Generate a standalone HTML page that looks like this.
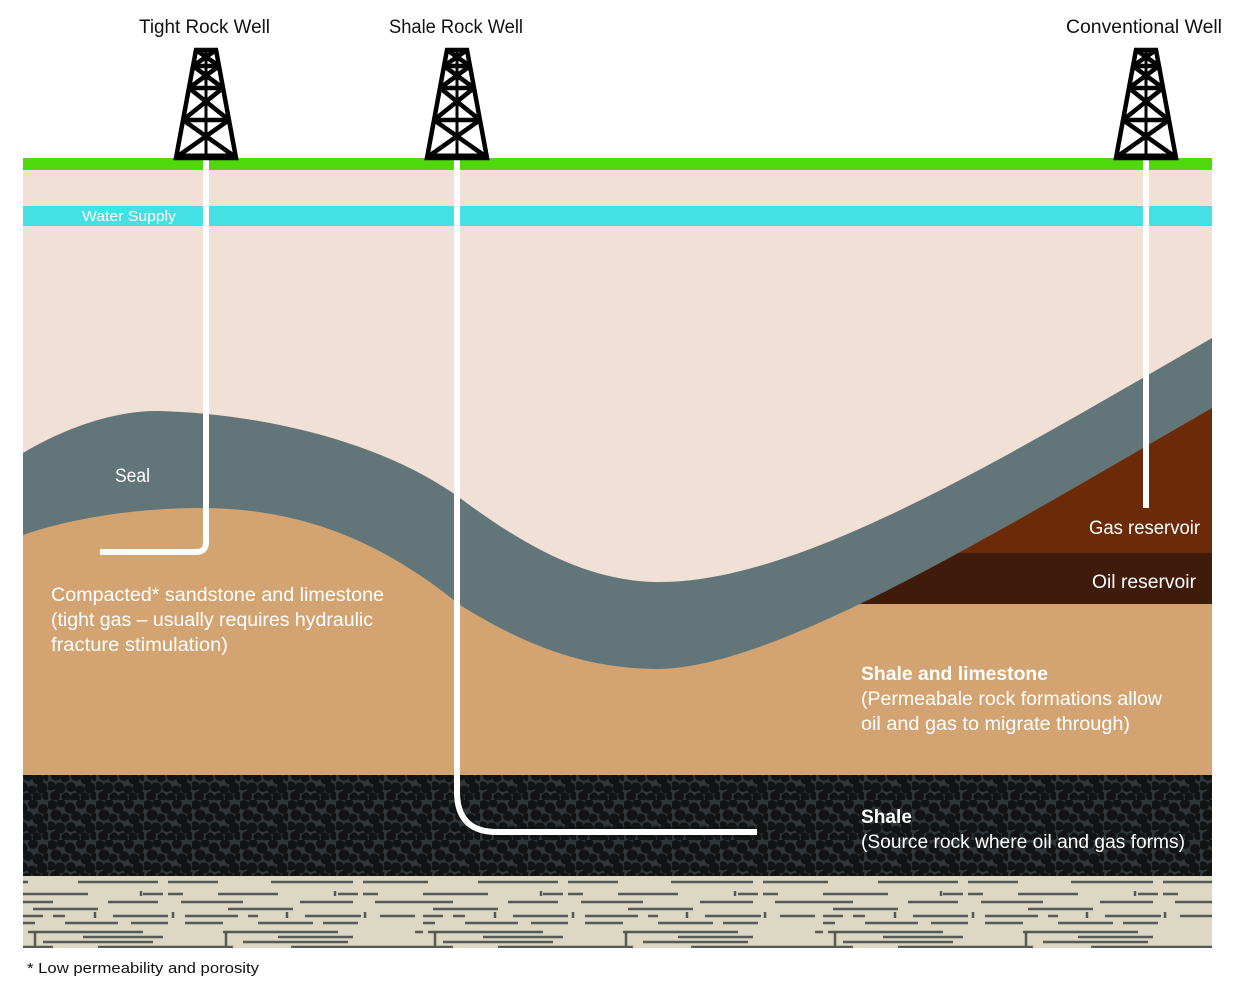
<!DOCTYPE html>
<html><head><meta charset="utf-8"><style>
html,body{margin:0;padding:0;background:#fff;}
svg{display:block;font-family:"Liberation Sans",sans-serif;}
</style></head><body>
<svg width="1240" height="990" viewBox="0 0 1240 990" xmlns="http://www.w3.org/2000/svg">
<defs>
<pattern id="shale" width="48" height="40" patternUnits="userSpaceOnUse">
<rect width="48" height="40" fill="#2f3639"/>
<g fill="#111315">
<circle cx="4" cy="5" r="5"/><circle cx="13" cy="3" r="4.5"/><circle cx="22" cy="8" r="5.5"/><circle cx="33" cy="4" r="5"/><circle cx="43" cy="9" r="5"/>
<circle cx="8" cy="15" r="5.5"/><circle cx="17" cy="18" r="4.5"/><circle cx="28" cy="16" r="5"/><circle cx="38" cy="19" r="5.5"/><circle cx="47" cy="17" r="4"/>
<circle cx="3" cy="26" r="4.5"/><circle cx="12" cy="28" r="5.5"/><circle cx="23" cy="27" r="5"/><circle cx="32" cy="30" r="4.5"/><circle cx="42" cy="28" r="5.5"/>
<circle cx="7" cy="36" r="5"/><circle cx="18" cy="37" r="4.5"/><circle cx="27" cy="38" r="5"/><circle cx="37" cy="37" r="4.5"/><circle cx="46" cy="36" r="4"/>
</g>
</pattern>
<pattern id="lime" width="400" height="72" patternUnits="userSpaceOnUse" x="23" y="876">
<rect width="400" height="72" fill="#dcd8c3"/>
<g stroke="#555a55" stroke-width="2.5">
<line x1="0" y1="6" x2="5" y2="6"/><line x1="55" y1="6" x2="135" y2="6"/><line x1="145" y1="6" x2="195" y2="6"/><line x1="248" y1="6" x2="330" y2="6"/><line x1="340" y1="6" x2="400" y2="6"/>
<line x1="0" y1="18" x2="65" y2="18"/><line x1="120" y1="18" x2="140" y2="18"/><line x1="145" y1="18" x2="160" y2="18"/><line x1="195" y1="18" x2="255" y2="18"/><line x1="315" y1="18" x2="335" y2="18"/><line x1="340" y1="18" x2="355" y2="18"/>
<line x1="0" y1="26" x2="30" y2="26"/><line x1="85" y1="26" x2="135" y2="26"/><line x1="158" y1="26" x2="220" y2="26"/><line x1="277" y1="26" x2="330" y2="26"/><line x1="352" y1="26" x2="400" y2="26"/>
<line x1="10" y1="33" x2="75" y2="33"/><line x1="205" y1="33" x2="270" y2="33"/>
<line x1="0" y1="40" x2="20" y2="40"/><line x1="30" y1="40" x2="42" y2="40"/><line x1="90" y1="40" x2="145" y2="40"/><line x1="162" y1="40" x2="215" y2="40"/><line x1="225" y1="40" x2="235" y2="40"/><line x1="282" y1="40" x2="338" y2="40"/><line x1="357" y1="40" x2="392" y2="40"/>
<line x1="0" y1="47" x2="12" y2="47"/><line x1="42" y1="47" x2="95" y2="47"/><line x1="108" y1="47" x2="145" y2="47"/><line x1="162" y1="47" x2="200" y2="47"/><line x1="235" y1="47" x2="290" y2="47"/><line x1="300" y1="47" x2="335" y2="47"/>
<line x1="5" y1="56" x2="120" y2="56"/><line x1="200" y1="56" x2="315" y2="56"/><line x1="392" y1="56" x2="400" y2="56"/>
<line x1="60" y1="61" x2="140" y2="61"/><line x1="255" y1="61" x2="330" y2="61"/>
<line x1="20" y1="66" x2="130" y2="66"/><line x1="220" y1="66" x2="325" y2="66"/>
<line x1="0" y1="71" x2="30" y2="71"/><line x1="75" y1="71" x2="210" y2="71"/><line x1="268" y1="71" x2="400" y2="71"/>
<line x1="118" y1="15" x2="118" y2="20"/><line x1="312" y1="15" x2="312" y2="20"/><line x1="72" y1="36" x2="72" y2="42"/><line x1="150" y1="36" x2="150" y2="42"/><line x1="264" y1="36" x2="264" y2="42"/><line x1="342" y1="36" x2="342" y2="42"/><line x1="12" y1="56" x2="12" y2="70"/><line x1="203" y1="56" x2="203" y2="70"/>
</g>
</pattern>
<clipPath id="belowSeal">
<path d="M23,535 C80,515 150,508 200,508 C300,508 380,540 460,605 C540,655 600,669 660,669 C780,666 1000,530 1212,408 L1212,775 L23,775 Z"/>
</clipPath>
</defs>

<rect x="23" y="170" width="1189" height="605" fill="#f1e0d6"/>
<rect x="23" y="206" width="1189" height="20" fill="#45e0e3"/>
<rect x="23" y="158" width="1189" height="12" fill="#4fd80c"/>

<path d="M23,453 C70,425 120,410 160,411 C260,414 380,440 460,498 C540,558 600,582 660,582 C800,582 1000,460 1212,338 L1212,775 L23,775 Z" fill="#627578"/>
<path d="M23,535 C80,515 150,508 200,508 C300,508 380,540 460,605 C540,655 600,669 660,669 C780,666 1000,530 1212,408 L1212,775 L23,775 Z" fill="#d3a371"/>
<g clip-path="url(#belowSeal)">
<rect x="840" y="380" width="372" height="173" fill="#6b2a08"/>
<rect x="840" y="553" width="372" height="51" fill="#3f1b0b"/>
</g>

<rect x="23" y="775" width="1189" height="101" fill="url(#shale)"/>
<rect x="23" y="876" width="1189" height="72" fill="url(#lime)"/>

<g fill="none" stroke="#fff" stroke-width="6">
<path d="M206,160 L206,542 Q206,552 196,552 L100,552"/>
<path d="M457,160 L457,792 Q457,832 497,832 L757,832"/>
<path d="M1146,160 L1146,508"/>
</g>

<g fill="none" stroke="#000" stroke-width="4.5" stroke-linejoin="miter">
<g id="d1" transform="translate(206,0)">
<polygon points="-10,50 10,50 30,158 -30,158"/>
<line x1="-28" y1="156" x2="28" y2="156" stroke-width="5"/>
<line x1="-13" y1="66" x2="13" y2="66"/>
<line x1="-17" y1="88" x2="17" y2="88"/>
<line x1="-23" y1="120" x2="23" y2="120"/>
<line x1="-10" y1="50" x2="13" y2="66"/><line x1="10" y1="50" x2="-13" y2="66"/>
<line x1="-13" y1="66" x2="17" y2="88"/><line x1="13" y1="66" x2="-17" y2="88"/>
<line x1="-17" y1="88" x2="23" y2="120"/><line x1="17" y1="88" x2="-23" y2="120"/>
<line x1="-23" y1="120" x2="28" y2="156"/><line x1="23" y1="120" x2="-28" y2="156"/>
<line x1="0" y1="50" x2="0" y2="158" stroke-width="3"/>
</g>
<use href="#d1" x="251"/>
<use href="#d1" x="940"/>
</g>

<g font-size="19" fill="#111" lengthAdjust="spacingAndGlyphs">
<text x="139" y="33" textLength="131" lengthAdjust="spacingAndGlyphs">Tight Rock Well</text>
<text x="389" y="33" textLength="134" lengthAdjust="spacingAndGlyphs">Shale Rock Well</text>
<text x="1066" y="33" textLength="156" lengthAdjust="spacingAndGlyphs">Conventional Well</text>
</g>

<g fill="#fff">
<text x="82" y="221" font-size="15" textLength="94" lengthAdjust="spacingAndGlyphs">Water Supply</text>
<text x="115" y="482" font-size="19" textLength="35" lengthAdjust="spacingAndGlyphs">Seal</text>
<text x="51" y="601" font-size="19" textLength="333" lengthAdjust="spacingAndGlyphs">Compacted* sandstone and limestone</text>
<text x="51" y="626" font-size="19" textLength="322" lengthAdjust="spacingAndGlyphs">(tight gas – usually requires hydraulic</text>
<text x="51" y="651" font-size="19" textLength="177" lengthAdjust="spacingAndGlyphs">fracture stimulation)</text>
<text x="1089" y="534" font-size="19" textLength="111" lengthAdjust="spacingAndGlyphs">Gas reservoir</text>
<text x="1092" y="588" font-size="19" textLength="104" lengthAdjust="spacingAndGlyphs">Oil reservoir</text>
<text x="861" y="680" font-size="19" font-weight="bold" textLength="187" lengthAdjust="spacingAndGlyphs">Shale and limestone</text>
<text x="861" y="705" font-size="19" textLength="301" lengthAdjust="spacingAndGlyphs">(Permeabale rock formations allow</text>
<text x="861" y="730" font-size="19" textLength="269" lengthAdjust="spacingAndGlyphs">oil and gas to migrate through)</text>
<text x="861" y="823" font-size="19" font-weight="bold" textLength="51" lengthAdjust="spacingAndGlyphs">Shale</text>
<text x="861" y="848" font-size="19" textLength="324" lengthAdjust="spacingAndGlyphs">(Source rock where oil and gas forms)</text>
</g>

<text x="27" y="973" font-size="15" fill="#111" textLength="232" lengthAdjust="spacingAndGlyphs">* Low permeability and porosity</text>
</svg>
</body></html>
